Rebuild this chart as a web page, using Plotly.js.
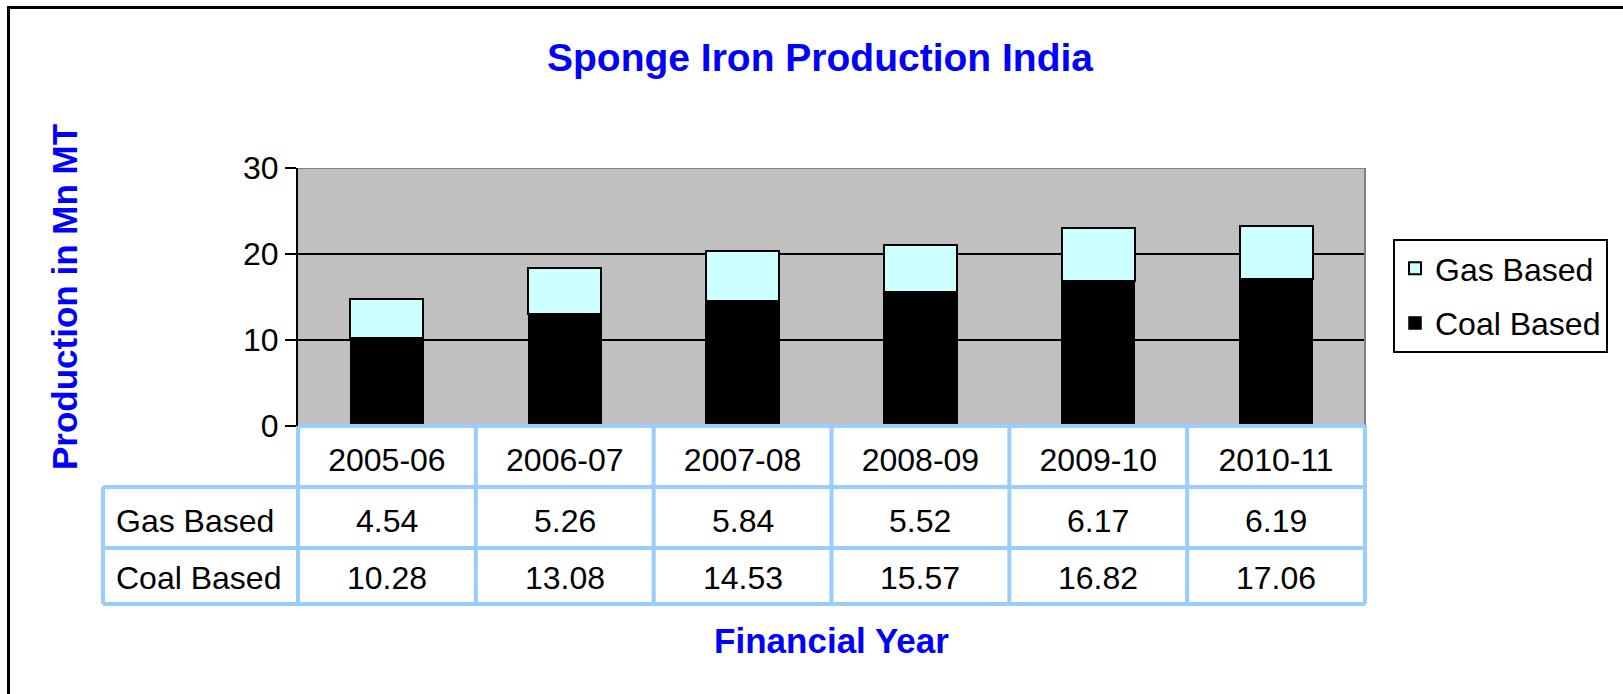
<!DOCTYPE html>
<html>
<head>
<meta charset="utf-8">
<script src="https://cdn.plot.ly/plotly-3.0.1.min.js"></script>
<style>
  html, body { margin: 0; padding: 0; background: #ffffff; overflow: hidden; }
  #chart { width: 1623px; height: 694px; }
</style>
</head>
<body>
<div id="chart"></div>
<script>
// ---- data ----
const years = ['2005-06', '2006-07', '2007-08', '2008-09', '2009-10', '2010-11'];
const gasBased = [4.54, 5.26, 5.84, 5.52, 6.17, 6.19];
const coalBased = [10.28, 13.08, 14.53, 15.57, 16.82, 17.06];
const seriesNames = ['Gas Based', 'Coal Based'];
const yTicks = [0, 10, 20, 30];
const chartTitle = 'Sponge Iron Production India';
const xTitle = 'Financial Year';
const yTitle = 'Production in Mn MT';

// ---- geometry (pixels) ----
const W = 1623, H = 694;
const plotL = 298, plotR = 1365, plotT = 168, plotB = 426;
const pw = plotR - plotL, ph = plotB - plotT;
const px2x = p => (p - plotL) / pw;
const py2y = p => (plotB - p) / ph;

const FONT = 'Liberation Sans, Arial, Helvetica, sans-serif';
const BLUE = '#0000FF';
const TBL = '#99CCFF';

// table row lines
const rowHeaderBottom = 487, rowGasBottom = 548, rowCoalBottom = 604;
const tableLeft = 103;

const shapes = [];
function pline(x0, y0, x1, y1, color, width) {
  shapes.push({type: 'line', xref: 'paper', yref: 'paper', x0: px2x(x0), y0: py2y(y0), x1: px2x(x1), y1: py2y(y1),
    line: {color: color, width: width}, layer: 'above'});
}
// plot area top and right border (gray)
shapes.push({type: 'line', xref: 'paper', yref: 'y', x0: 0, x1: 1, y0: 30, y1: 30, line: {color: '#808080', width: 2}, layer: 'above'});
shapes.push({type: 'line', xref: 'paper', yref: 'y', x0: 1, x1: 1, y0: 0, y1: 30, line: {color: '#808080', width: 2}, layer: 'above'});

// table grid
const colW = pw / years.length;
pline(plotL, plotB, plotR, plotB, TBL, 4);
pline(tableLeft, rowHeaderBottom, plotR, rowHeaderBottom, TBL, 4);
pline(tableLeft, rowGasBottom, plotR, rowGasBottom, TBL, 4);
pline(tableLeft, rowCoalBottom, plotR, rowCoalBottom, TBL, 4);
pline(tableLeft, rowHeaderBottom, tableLeft, rowCoalBottom, TBL, 4);
for (let k = 0; k <= years.length; k++) {
  const xx = plotL + k * colW;
  pline(xx, plotB, xx, rowCoalBottom, TBL, 4);
}
// outer frame: only top and left edges are visible
pline(7, 7.5, W + 5, 7.5, '#000000', 3);
pline(8.5, 6, 8.5, H + 5, '#000000', 3);

// table annotations
const annotations = [];
const rowVals = [gasBased, coalBased];
const rowCenters = [(rowHeaderBottom + rowGasBottom) / 2 + 3, (rowGasBottom + rowCoalBottom) / 2 + 2];
rowVals.forEach((vals, r) => {
  annotations.push({xref: 'paper', yref: 'paper', x: px2x(114), y: py2y(rowCenters[r]), xanchor: 'left', yanchor: 'middle',
    text: seriesNames[r], showarrow: false, font: {family: FONT, size: 32, color: '#000'}});
  vals.forEach((v, i) => {
    annotations.push({xref: 'x', yref: 'paper', x: years[i], y: py2y(rowCenters[r]), xanchor: 'center', yanchor: 'middle',
      text: v.toFixed(2), showarrow: false, font: {family: FONT, size: 32, color: '#000'}});
  });
});

const traces = [
  {type: 'bar', x: years, y: coalBased, name: seriesNames[1], legendgroup: 'coal', legendrank: 2,
   marker: {color: '#000000', line: {color: '#000000', width: 1.5}}, hoverinfo: 'skip'},
  {type: 'bar', x: years, y: gasBased, name: seriesNames[0], legendgroup: 'gas', legendrank: 1,
   marker: {color: '#CCFFFF', line: {color: '#000000', width: 2}}, hoverinfo: 'skip'}
];

const layout = {
  width: W, height: H,
  margin: {l: plotL, r: W - plotR, t: plotT, b: H - plotB, pad: 0},
  paper_bgcolor: '#ffffff',
  plot_bgcolor: '#C0C0C0',
  barmode: 'stack',
  bargap: 0.59,
  showlegend: true,
  font: {family: FONT, color: '#000'},
  title: {text: chartTitle, font: {family: FONT, size: 39, color: BLUE, weight: 'bold'},
          x: 820 / W, xanchor: 'center', xref: 'container', y: 1 - 57 / H, yanchor: 'middle', yref: 'container'},
  xaxis: {
    type: 'category', showgrid: false, zeroline: false, showline: false, ticks: '',
    tickfont: {family: FONT, size: 32, color: '#000'}, ticklabelstandoff: 12,
    automargin: true,
    title: {text: xTitle, font: {family: FONT, size: 35, color: BLUE, weight: 'bold'}, standoff: 151}
  },
  yaxis: {
    range: [0, 30], tickvals: yTicks, ticktext: yTicks.map(String),
    ticks: 'outside', ticklen: 11, tickwidth: 2, tickcolor: '#000',
    showline: true, linecolor: '#000', linewidth: 2,
    showgrid: true, gridcolor: '#000', gridwidth: 2, zeroline: false,
    tickfont: {family: FONT, size: 32, color: '#000'},
    automargin: true,
    title: {text: yTitle, font: {family: FONT, size: 35, color: BLUE, weight: 'bold'}, standoff: 155}
  },
  legend: {
    x: px2x(1393), y: py2y(239), xanchor: 'left', yanchor: 'top',
    bgcolor: '#ffffff', bordercolor: '#000', borderwidth: 2,
    font: {family: FONT, size: 32, color: '#000'},
    traceorder: 'grouped', tracegroupgap: 10
  },
  shapes: shapes,
  annotations: annotations
};

Plotly.newPlot('chart', traces, layout, {staticPlot: true, displayModeBar: false});
</script>
</body>
</html>
